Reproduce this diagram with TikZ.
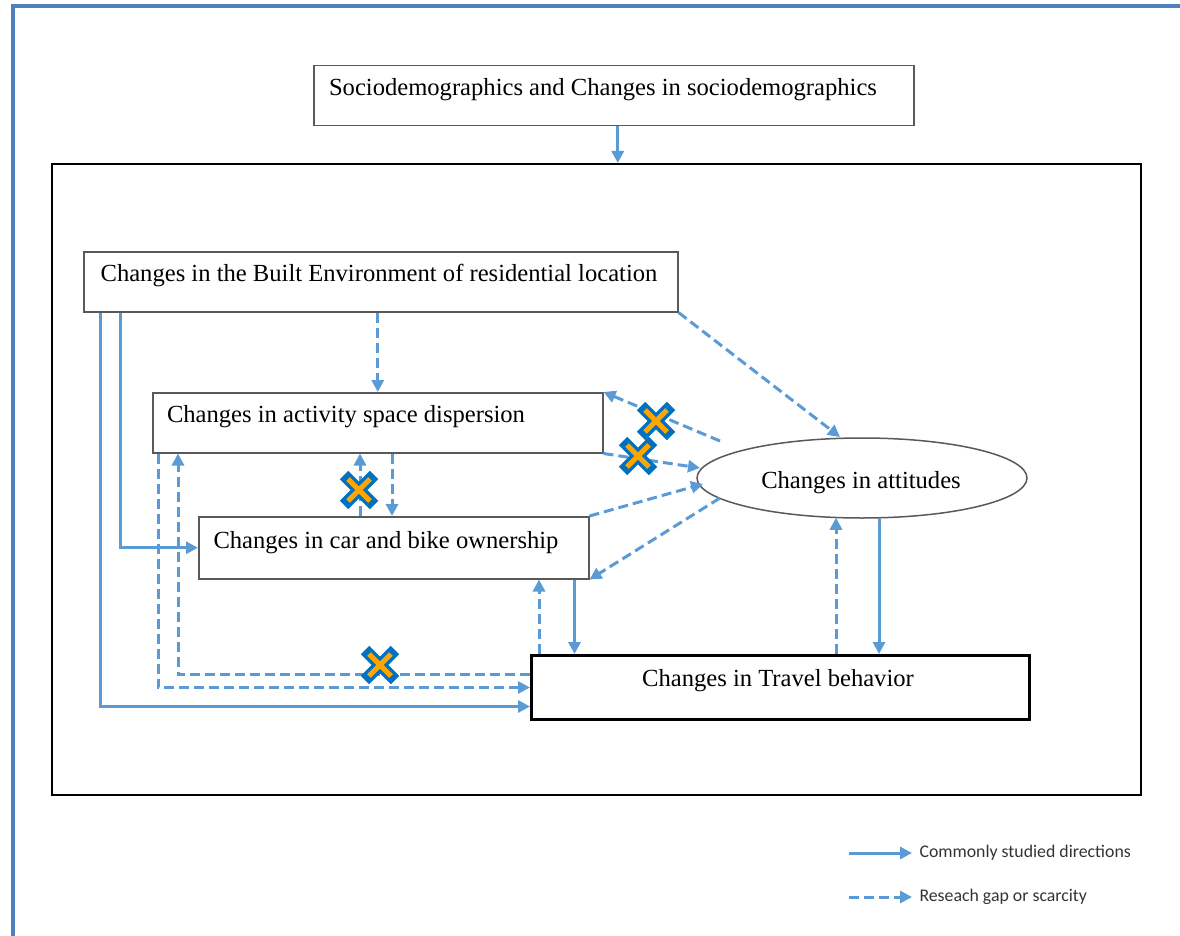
\documentclass[tikz,border=0pt]{standalone}
\usepackage{fontspec}
\setmainfont{Liberation Serif}
\newfontfamily\legendfont{Carlito}
\usetikzlibrary{shapes.geometric,arrows.meta,calc}
\definecolor{arrblue}{HTML}{5B9BD5}
\definecolor{frameblue}{HTML}{4F81BD}
\definecolor{boxgray}{HTML}{595959}
\definecolor{xblue}{HTML}{0070C0}
\definecolor{xorange}{HTML}{FFA500}
\tikzset{
  box/.style={draw=boxgray, line width=1.5pt, rectangle, inner sep=0pt, anchor=north west},
  lbl/.style={font=\fontsize{24.6}{28}\selectfont, inner sep=0pt, anchor=base},
  solidarr/.style={draw=arrblue, line width=3pt, -{Triangle[length=12pt,width=12pt]}},
  dasharr/.style={solidarr, dash pattern=on 10pt off 5pt},
  legtext/.style={right=6pt, text=black!80, font=\legendfont\fontsize{17.8}{20}\selectfont, inner sep=0pt},
  gapx/.pic={
    \draw[xblue, line width=12pt] (-15,-15)--(15,15) (-15,15)--(15,-15);
    \draw[xorange, line width=5pt] (-11,-11)--(11,11) (-11,11)--(11,-11);
  }
}
\begin{document}
\begin{tikzpicture}[x=1pt,y=-1pt]
\useasboundingbox (0,0) rectangle (1180,936);
% outer frame (left and top edges)
\draw[frameblue, line width=3.5pt] (13,940) -- (13,6) -- (1184,6);

% boxes
\node[box, minimum width=600pt, minimum height=60pt] (top) at (313,65) {};
\node[box, draw=black, line width=2pt, minimum width=1089pt, minimum height=631pt] (big) at (51,163) {};
\node[box, minimum width=594pt, minimum height=60pt] (be) at (83,251) {};
\node[box, minimum width=450pt, minimum height=60pt] (act) at (152,392) {};
\node[box, minimum width=390pt, minimum height=62pt] (car) at (198,516) {};
\node[box, draw=black, line width=3pt, minimum width=498pt, minimum height=64pt] (tb) at (530,654) {};
\node[ellipse, draw=boxgray, line width=1.5pt, inner sep=0pt, minimum width=330pt, minimum height=80pt] (att) at (862,478) {};

% labels
\node[lbl] (ttop) at (603,96) {Sociodemographics and Changes in sociodemographics};
\node[lbl] (tbe) at (379,281) {Changes in the Built Environment of residential location};
\node[lbl] (tact) at (346,422) {Changes in activity space dispersion};
\node[lbl] (tcar) at (386,548) {Changes in car and bike ownership};
\node[lbl] (ttb) at (778,686) {Changes in Travel behavior};
\node[lbl] (tatt) at (861,488) {Changes in attitudes};

% points near the attitudes ellipse
\coordinate (p1) at ($(att.center)+(-22,-41)$);
\coordinate (p2) at ($(att.center)+(-142,-37)$);
\coordinate (p3) at ($(att.center)+(-162,-10)$);
\coordinate (p4) at ($(att.center)+(-159,6)$);
\coordinate (p5) at ($(att.center)+(-142,20)$);

% connectors
\coordinate (s0) at ($(top.south)+(4,0)$);
\draw[solidarr] (s0) -- (s0 |- big.north);
\draw[dasharr] (act.north |- be.south) -- (act.north);
\draw[dasharr] (be.south east) -- (p1);
\draw[dasharr] (p2) -- (act.north east);
\draw[dasharr] (act.south east) -- (p3);
\draw[dasharr] (car.north east) -- (p4);
\draw[dasharr] (p5) -- (car.south east);

\coordinate (cu) at ($(car.north west)+(162,0)$);
\coordinate (cd) at ($(act.south west)+(240,0)$);
\draw[dasharr] (cu) -- (cu |- act.south);
\draw[dasharr] (cd) -- (cd |- car.north);

\coordinate (b1) at ($(be.south west)+(37,0)$);
\coordinate (b2) at ($(be.south west)+(17,0)$);
\draw[solidarr] (b1) |- (car.west);
\draw[solidarr] (b2) |- ($(tb.west)+(0,19)$);

\coordinate (a1) at ($(act.south west)+(6,0)$);
\coordinate (a2) at ($(act.south west)+(26,0)$);
\draw[dasharr] (a1) |- (tb.west);
\draw[dasharr] ($(tb.west)+(0,-13)$) -| (a2);

\coordinate (t1) at ($(tb.north west)+(9,0)$);
\coordinate (c1) at ($(car.south east)+(-15,0)$);
\draw[dasharr] (t1) -- (t1 |- car.south);
\draw[solidarr] (c1) -- (c1 |- tb.north);

\coordinate (t2) at ($(tb.north west)+(306,0)$);
\coordinate (e1) at ($(att.south)+(-26,-1)$);
\coordinate (e2) at ($(att.south)+(17,0)$);
\draw[dasharr] (t2) -- (e1);
\draw[solidarr] (e2) -- (e2 |- tb.north);

% gap marks
\pic at (656,421) {gapx};
\pic at (638,456) {gapx};
\pic at (359,490) {gapx};
\pic at (380,665) {gapx};

% legend
\coordinate (l1) at (849,853);
\coordinate (l2) at (849,897);
\draw[solidarr] (l1) -- ++(63,0) node[legtext] (leg1) {Commonly studied directions};
\draw[dasharr] (l2) -- ++(63,0) node[legtext] (leg2) {Reseach gap or scarcity};
\end{tikzpicture}
\end{document}
